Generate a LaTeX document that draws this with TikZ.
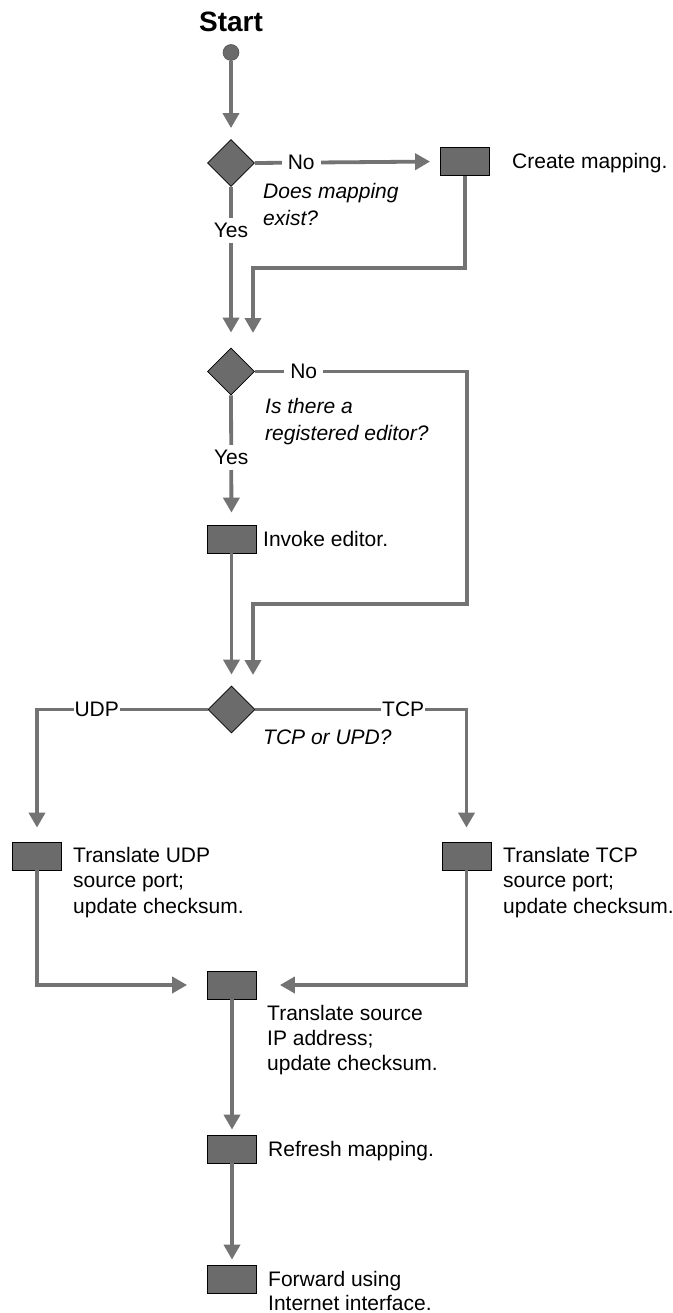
\documentclass[tikz,border=0pt]{standalone}
\usepackage{fontspec}
\setmainfont{Liberation Sans}
\usetikzlibrary{arrows.meta,shapes.geometric,calc}
\begin{document}
\begin{tikzpicture}[x=1pt,y=-1pt,
  every node/.style={font=\fontsize{21}{27}\selectfont},
  conn/.style={draw=black!55,line width=3.8pt},
  arr/.style={conn,-{Triangle[length=15pt,width=16pt]}},
  boxn/.style={draw=black,line width=0.8pt,fill=black!58,minimum width=49pt,minimum height=28pt,inner sep=0pt},
  dia/.style={diamond,draw=black,line width=0.8pt,fill=black!58,minimum width=47pt,minimum height=47pt,inner sep=0pt},
  lbl/.style={fill=white,inner xsep=6pt,inner ysep=5pt},
  txt/.style={align=left,anchor=base west,inner sep=0pt},
  qtxt/.style={txt,font=\fontsize{21}{27}\selectfont\itshape}]
\useasboundingbox (0,0) rectangle (672,1313);
\fill[white] (0,0) rectangle (672,1313);

\node[font=\bfseries\fontsize{28}{30}\selectfont] (starttxt) at (231,22) {Start};
\node[circle,fill=black!58,draw=black!70,line width=0.5pt,minimum size=16pt,inner sep=0pt] (s) at (231,52.5) {};
\node[dia] (d1) at (231,163) {};
\node[boxn] (c1) at (465,161.5) {};
\node[dia] (d2) at (231,371.5) {};
\node[boxn] (inv) at (231.5,539) {};
\node[dia] (d3) at (231.5,709.5) {};
\node[boxn] (udp) at (37,856) {};
\node[boxn] (tcp) at (466.5,856) {};
\node[boxn] (tsrc) at (232,985) {};
\node[boxn] (ref) at (232,1149) {};
\node[boxn] (fwd) at (232,1279) {};

\coordinate (j1) at (253,268);
\coordinate (m1) at (253,333);
\coordinate (j2) at (467,604);
\coordinate (j3) at (253,604);
\coordinate (m2) at (253,675);

% texts (base anchor = baseline of last line)
\node[qtxt] (q1) at (263,226) {Does mapping\\exist?};
\node[qtxt] (q2) at (265,440) {Is there a\\registered editor?};
\node[qtxt] (q3) at (263,744) {TCP or UPD?};
\node[txt] (t1) at (512,169) {Create mapping.};
\node[txt] (t2) at (263,546.5) {Invoke editor.};
\node[txt,font=\fontsize{21}{25.5}\selectfont] (t3) at (73,913) {Translate UDP\\source port;\\update checksum.};
\node[txt,font=\fontsize{21}{25.5}\selectfont] (t4) at (503,913) {Translate TCP\\source port;\\update checksum.};
\node[txt,font=\fontsize{21}{25}\selectfont] (t5) at (267,1070) {Translate source\\IP address;\\update checksum.};
\node[txt] (t6) at (268,1156.5) {Refresh mapping.};
\node[txt,font=\fontsize{21}{24}\selectfont] (t7) at (268,1310) {Forward using\\Internet interface.};

% connectors
\draw[arr,shorten >=11pt] (s) -- (d1);
\draw[arr,shorten >=10pt] (d1.east) -- node[lbl,pos=0.25]{No} (c1.west);
\draw[arr,shorten >=15pt] (d1.south) -- node[lbl,pos=0.27]{Yes} (d2.north);
\draw[arr] (c1.south) |- (j1) -- (m1);
\draw[arr] (d2.east) -- node[lbl,pos=0.23]{No} (d2.east -| j2) -- (j2) -- (j3) -- (m2);
\draw[arr,shorten >=12pt] (d2.south) -- node[lbl,pos=0.48]{Yes} (inv.north);
\draw[arr,shorten >=11pt] (inv.south) -- (d3.north);
\draw[arr,shorten >=14pt] (d3.west) -- node[lbl,pos=0.65,inner xsep=1pt]{UDP} (d3.west -| udp) -- (udp.north);
\draw[arr,shorten >=14pt] (d3.east) -- node[lbl,pos=0.70,inner xsep=1pt]{TCP} (d3.east -| tcp) -- (tcp.north);
\draw[arr,shorten >=20pt] (udp.south) |- (tsrc.west);
\draw[arr,shorten >=23pt] (tcp.south) |- (tsrc.east);
\draw[arr,shorten >=5pt] (tsrc.south) -- (ref.north);
\draw[arr,shorten >=5pt] (ref.south) -- (fwd.north);
\end{tikzpicture}
\end{document}
